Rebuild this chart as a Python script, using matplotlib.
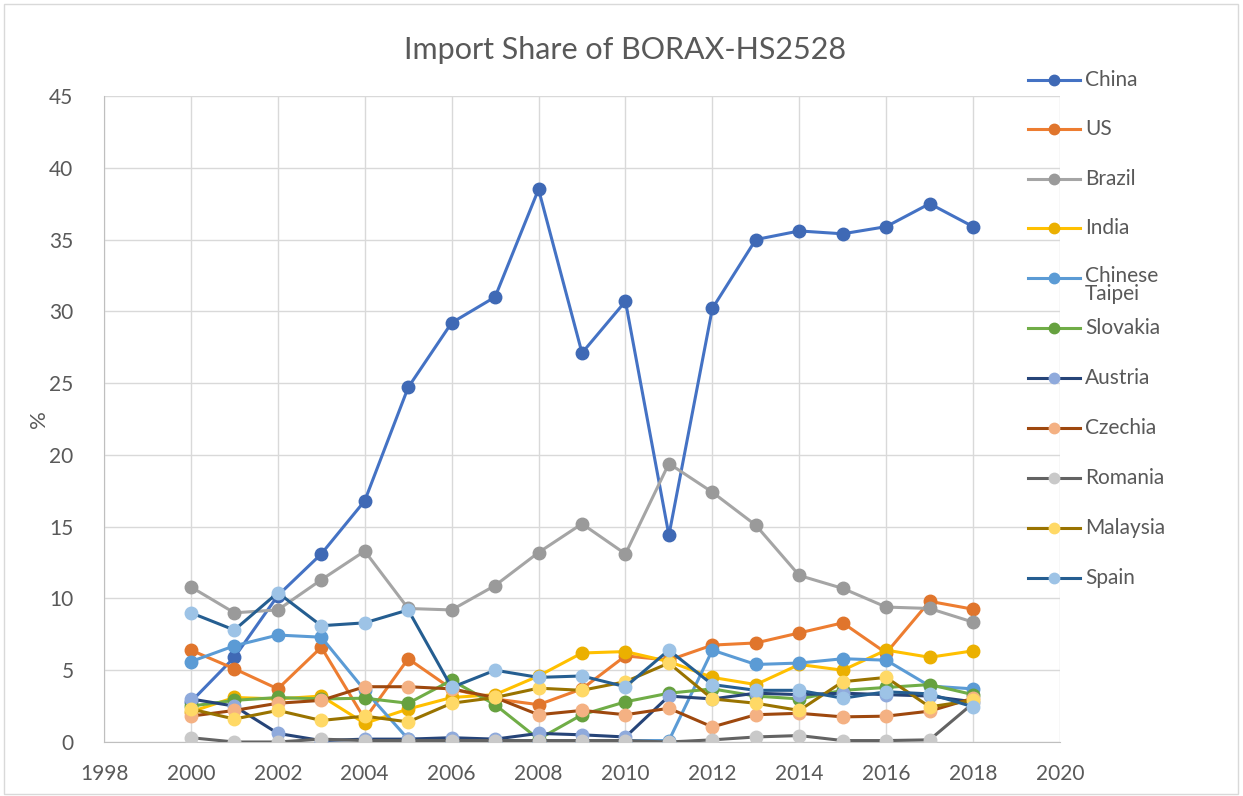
import matplotlib
matplotlib.use("Agg")
import matplotlib.pyplot as plt
from matplotlib.lines import Line2D
from matplotlib.patches import Rectangle

years = list(range(2000, 2019))

china = [2.8, 5.9, 10.2, 13.1, 16.8, 24.7, 29.2, 31.0, 38.5, 27.1, 30.7, 14.4, 30.2, 35.0, 35.6, 35.4, 35.9, 37.5, 35.9]
us = [6.4, 5.1, 3.7, 6.6, 1.6, 5.8, 3.7, 3.0, 2.6, 3.7, 6.0, 5.7, 6.75, 6.9, 7.6, 8.3, 6.2, 9.8, 9.25]
brazil = [10.8, 9.0, 9.2, 11.3, 13.3, 9.3, 9.2, 10.9, 13.2, 15.2, 13.1, 19.4, 17.4, 15.1, 11.6, 10.7, 9.4, 9.3, 8.35]
india = [2.1, 3.1, 3.0, 3.2, 1.3, 2.3, 3.1, 3.3, 4.6, 6.2, 6.3, 5.6, 4.5, 4.0, 5.4, 5.0, 6.4, 5.9, 6.35]
taipei = [5.6, 6.7, 7.45, 7.3, 3.6, 0.2, 0.1, 0.1, 0.1, 0.1, 0.1, 0.1, 6.4, 5.4, 5.5, 5.8, 5.7, 3.9, 3.7]
slovakia = [2.5, 2.9, 3.1, 3.0, 3.05, 2.7, 4.3, 2.6, 0.2, 1.9, 2.8, 3.4, 3.7, 3.2, 3.0, 3.6, 3.8, 4.0, 3.3]
austria = [3.0, 2.5, 0.6, 0.1, 0.2, 0.2, 0.3, 0.2, 0.6, 0.5, 0.35, 3.2, 3.0, 3.4, 3.3, 3.4, 3.3, 3.2, 2.8]
czechia = [1.8, 2.2, 2.7, 2.9, 3.85, 3.85, 3.7, 3.1, 1.9, 2.2, 1.9, 2.35, 1.05, 1.9, 2.0, 1.75, 1.8, 2.15, 3.05]
romania = [0.3, 0.0, 0.0, 0.2, 0.1, 0.1, 0.1, 0.1, 0.1, 0.1, 0.1, 0.0, 0.15, 0.35, 0.45, 0.1, 0.1, 0.15, 2.7]
malaysia = [2.3, 1.6, 2.2, 1.5, 1.8, 1.4, 2.7, 3.1, 3.75, 3.6, 4.2, 5.5, 3.0, 2.7, 2.2, 4.2, 4.5, 2.45, 2.9]
spain = [9.0, 7.8, 10.4, 8.1, 8.3, 9.2, 3.8, 5.0, 4.5, 4.6, 3.85, 6.4, 4.0, 3.6, 3.6, 3.05, 3.5, 3.35, 2.45]

names = ["China", "US", "Brazil", "India", "Chinese\nTaipei", "Slovakia", "Austria",
         "Czechia", "Romania", "Malaysia", "Spain"]
series = [china, us, brazil, india, taipei, slovakia, austria, czechia, romania, malaysia, spain]
line_colors = ["#4472C4", "#ED7D31", "#A5A5A5", "#FFC000", "#5B9BD5", "#70AD47",
               "#264478", "#9E480E", "#636363", "#997300", "#255E91"]
marker_colors = ["#3F69B5", "#E0752C", "#9A9A9A", "#EBB000", "#5B9BD5", "#66A13F",
                 "#8FAADC", "#F4B183", "#C9C9C9", "#FFD966", "#9DC3E6"]

plt.rcParams['font.family'] = ['Lato', 'DejaVu Sans']

fig = plt.figure(figsize=(12.43, 7.96), dpi=100)
ax = fig.add_axes([104/1243, 54/796, 956/1243, 646/796])

for vals, lc, mc, nm in zip(series, line_colors, marker_colors, names):
    ax.plot(years, vals, color=lc, lw=2.2, marker='o', ms=9,
            markerfacecolor=mc, markeredgecolor=mc, label=nm, zorder=3)

ax.set_xlim(1998, 2020)
ax.set_ylim(0, 45)
ax.set_xticks(range(1998, 2021, 2))
ax.set_yticks(range(0, 46, 5))
ax.grid(True, color="#D9D9D9", lw=1.0, zorder=0)
for s in ["top", "right"]:
    ax.spines[s].set_visible(False)
for s in ["left", "bottom"]:
    ax.spines[s].set_color("#BFBFBF")
ax.tick_params(axis='both', length=0, labelsize=15, colors="#595959")
ax.tick_params(axis='y', pad=22)
ax.tick_params(axis='x', pad=16)
ax.set_ylabel("%", fontsize=16, color="#595959", labelpad=0)

fig.text(625/1243, 1 - 50/796, "Import Share of BORAX-HS2528", ha='center', va='center',
         fontsize=22, color="#595959")

# legend drawn on the figure
ys = [80, 129, 179, 228, 278, 328, 378, 428, 478, 528, 578]
for y, lc, mc, nm in zip(ys, line_colors, marker_colors, names):
    fy = 1 - y/796
    fig.add_artist(Line2D([1028/1243, 1080/1243], [fy, fy], color=lc, lw=2.2,
                          transform=fig.transFigure))
    fig.add_artist(Line2D([1054/1243], [fy], color=lc, marker='o', ms=7.5,
                          markerfacecolor=mc, markeredgecolor=mc, lw=0,
                          transform=fig.transFigure))
    if "\n" in nm:
        fig.text(1085/1243, 1 - (y - 12)/796, nm, ha='left', va='top', fontsize=15,
                 color="#595959", linespacing=0.85)
    else:
        fig.text(1085/1243, fy, nm, ha='left', va='center', fontsize=15, color="#595959")

fig.add_artist(Rectangle((4/1243, 2/796), 1234/1243, 790/796, transform=fig.transFigure,
                         fill=False, edgecolor="#D9D9D9", lw=1.0))

fig.savefig("out.png", dpi=100)
